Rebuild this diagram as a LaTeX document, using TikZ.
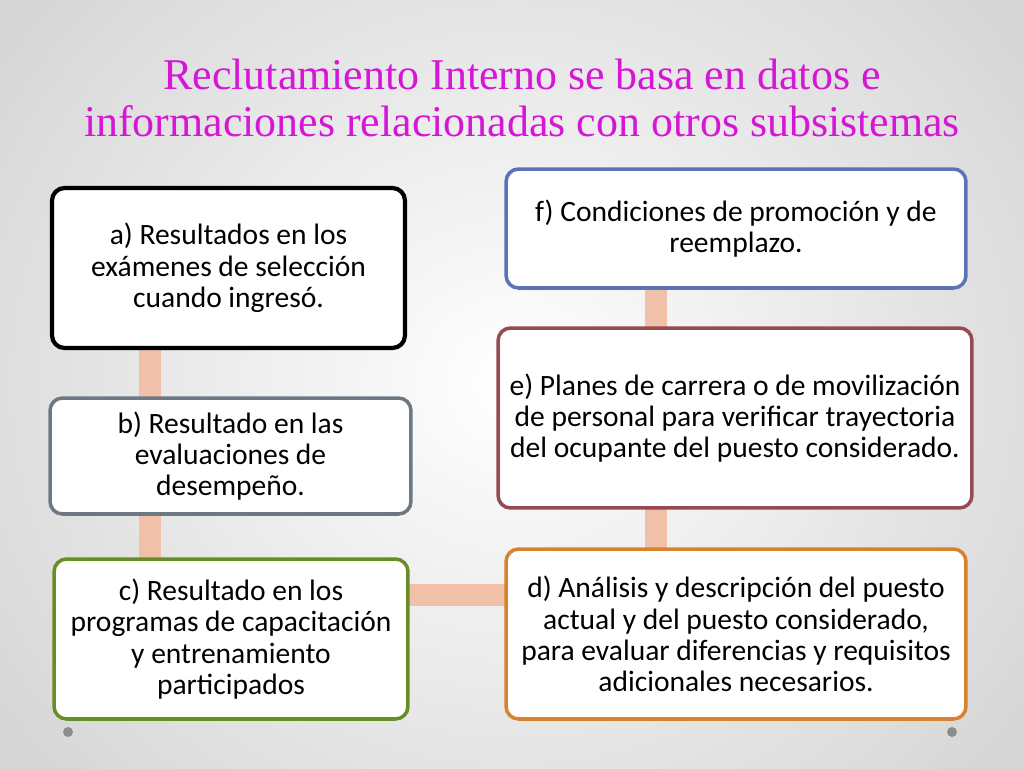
\documentclass[tikz,border=0pt]{standalone}
\usepackage{fontspec}
\setmainfont{Carlito}
\newfontfamily\titlefont{Liberation Serif}
\usetikzlibrary{positioning,backgrounds}

\definecolor{titlepink}{RGB}{214,22,214}
\definecolor{linkpeach}{RGB}{240,192,168}
\definecolor{edgeb}{RGB}{110,120,130}
\definecolor{edgec}{RGB}{103,140,40}
\definecolor{edged}{RGB}{215,130,45}
\definecolor{edgee}{RGB}{150,75,80}
\definecolor{edgef}{RGB}{90,115,180}

\begin{document}
\begin{tikzpicture}[x=0.02cm, y=-0.02cm,
    paso/.style={rectangle, draw, fill=white, rounded corners=0.25cm, line width=2pt,
        align=center, inner sep=0pt, text=black, font=\fontsize{16.8}{17.8}\selectfont},
    link/.style={draw=linkpeach, line width=0.44cm},
    titulo/.style={align=center, text=titlepink, font=\titlefont\fontsize{25}{26.7}\selectfont}
]

\useasboundingbox (0,0) rectangle (1024,768);

\node [titulo] (title) at (522,98)
    {Reclutamiento Interno se basa en datos e\\informaciones relacionadas con otros subsistemas};

% left column
\node [paso, line width=2.4pt, minimum width=7.06cm, minimum height=3.2cm] (a) at (228.5,268)
    {a) Resultados en los\\ex\'amenes de selecci\'on\\cuando ingres\'o.};
\node [paso, draw=edgeb, minimum width=7.22cm, minimum height=2.32cm] (b) at (230.5,456)
    {b) Resultado en las\\evaluaciones de\\desempe\~no.};
\node [paso, draw=edgec, minimum width=7.08cm, minimum height=3.2cm] (c) at (231,639)
    {c) Resultado en los\\programas de capacitaci\'on\\y entrenamiento\\participados};

% right column
\node [paso, draw=edged, minimum width=9.2cm, minimum height=3.4cm] (d) at (736,634)
    {d) An\'alisis y descripci\'on del puesto\\actual y del puesto considerado,\\para evaluar diferencias y requisitos\\adicionales necesarios.};
\node [paso, draw=edgee, minimum width=9.48cm, minimum height=3.6cm] (e) at (735,418)
    {e) Planes de carrera o de movilizaci\'on\\de personal para verificar trayectoria\\del ocupante del puesto considerado.};
\node [paso, draw=edgef, minimum width=9.2cm, minimum height=2.38cm] (f) at (736,228.5)
    {f) Condiciones de promoci\'on y de\\reemplazo.};

\coordinate (lx) at (150,0);
\coordinate (rx) at (656,0);
\coordinate (my) at (0,595);

\begin{pgfonlayer}{background}
\shade [inner color=white, outer color=black!16] (-120,-200) rectangle (1144,968);
\draw [link] (a -| lx) -- (b -| lx);
\draw [link] (b -| lx) -- (c -| lx);
\draw [link] (c |- my) -- (d |- my);
\draw [link] (d -| rx) -- (e -| rx);
\draw [link] (e -| rx) -- (f -| rx);
\end{pgfonlayer}

\fill [black!45] (68,732) circle (0.1cm);
\fill [black!45] (952,732) circle (0.1cm);

\end{tikzpicture}
\end{document}
